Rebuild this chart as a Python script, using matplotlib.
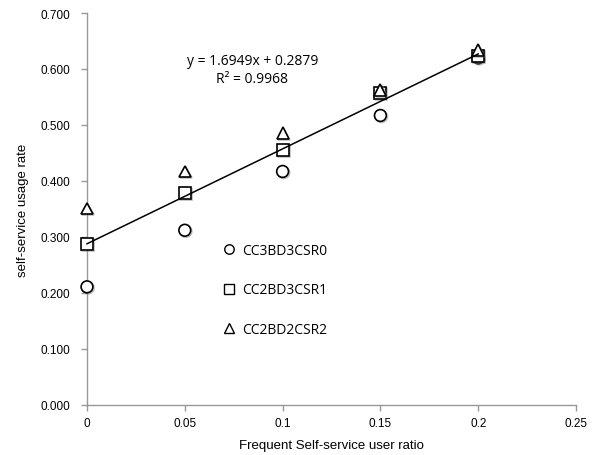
import matplotlib
matplotlib.use("Agg")
import matplotlib.pyplot as plt
import matplotlib.patheffects as pe
import numpy as np

x = [0, 0.05, 0.1, 0.15, 0.2]
cc3bd3csr0 = [0.211, 0.312, 0.417, 0.517, 0.620]
cc2bd3csr1 = [0.287, 0.378, 0.455, 0.557, 0.623]
cc2bd2csr2 = [0.351, 0.417, 0.485, 0.562, 0.634]
series_names = ["CC3BD3CSR0", "CC2BD3CSR1", "CC2BD2CSR2"]
slope, intercept, r2 = 1.6949, 0.2879, 0.9968
xticks = [0, 0.05, 0.1, 0.15, 0.2, 0.25]
xticklabels = ["0", "0.05", "0.1", "0.15", "0.2", "0.25"]
yticks = [0, 0.1, 0.2, 0.3, 0.4, 0.5, 0.6, 0.7]

fig = plt.figure(figsize=(6.02, 4.56), dpi=100)
ax = fig.add_axes([87/602, 50/456, (576-87)/602, (406-14)/456])

shadow = [pe.SimpleLineShadow(offset=(0.8, -0.8), shadow_color="gray", alpha=0.5), pe.Normal()]
mk = dict(linestyle="none", markerfacecolor="white", markeredgecolor="black",
          markeredgewidth=1.2, markersize=8.5, zorder=3, clip_on=False)
ax.plot(x, cc3bd3csr0, marker="o", label=series_names[0], path_effects=shadow, **mk)
ax.plot(x, cc2bd3csr1, marker="s", label=series_names[1], path_effects=shadow, **mk)
ax.plot(x, cc2bd2csr2, marker="^", label=series_names[2], path_effects=shadow, **mk)

xl = np.array([x[0], x[-1]])
ax.plot(xl, slope * xl + intercept, color="black", lw=1.1, zorder=4, clip_on=False)

ax.text(0.0846, 0.615, f"y = {slope:.4f}x + {intercept:.4f}", ha="center", va="center",
        fontsize=10, family="Open Sans")
ax.text(0.0846, 0.583, f"R² = {r2:.4f}", ha="center", va="center",
        fontsize=10, family="Open Sans")

ax.set_xlim(0, 0.25)
ax.set_ylim(0, 0.7)
ax.set_xticks(xticks)
ax.set_xticklabels(xticklabels)
ax.set_yticks(yticks)
ax.set_yticklabels([f"{v:.3f}" for v in yticks])
for s in ["top", "right"]:
    ax.spines[s].set_visible(False)
for s in ["left", "bottom"]:
    ax.spines[s].set_color("#999999")
    ax.spines[s].set_linewidth(1.0)
ax.tick_params(colors="#999999", length=4, width=1.0, labelcolor="black", labelsize=8.5)
for lab in ax.get_xticklabels() + ax.get_yticklabels():
    lab.set_family("Liberation Sans")
ax.tick_params(axis="x", pad=5)
ax.tick_params(axis="y", pad=8)

ax.set_xlabel("Frequent Self-service user ratio", family="Liberation Sans", fontsize=9.5, labelpad=7)
ax.set_ylabel("self-service usage rate", family="Liberation Sans", fontsize=9.5, labelpad=8)

leg = ax.legend(loc="upper left", bbox_to_anchor=(0.251, 0.445), frameon=False,
                labelspacing=1.75, handletextpad=0.45, handlelength=1.0,
                prop={"family": "Open Sans", "size": 10}, markerscale=0.8)
for h in leg.legend_handles:
    h.set_markeredgewidth(1.0)
    h.set_path_effects([])

fig.savefig("out.png", dpi=100)
